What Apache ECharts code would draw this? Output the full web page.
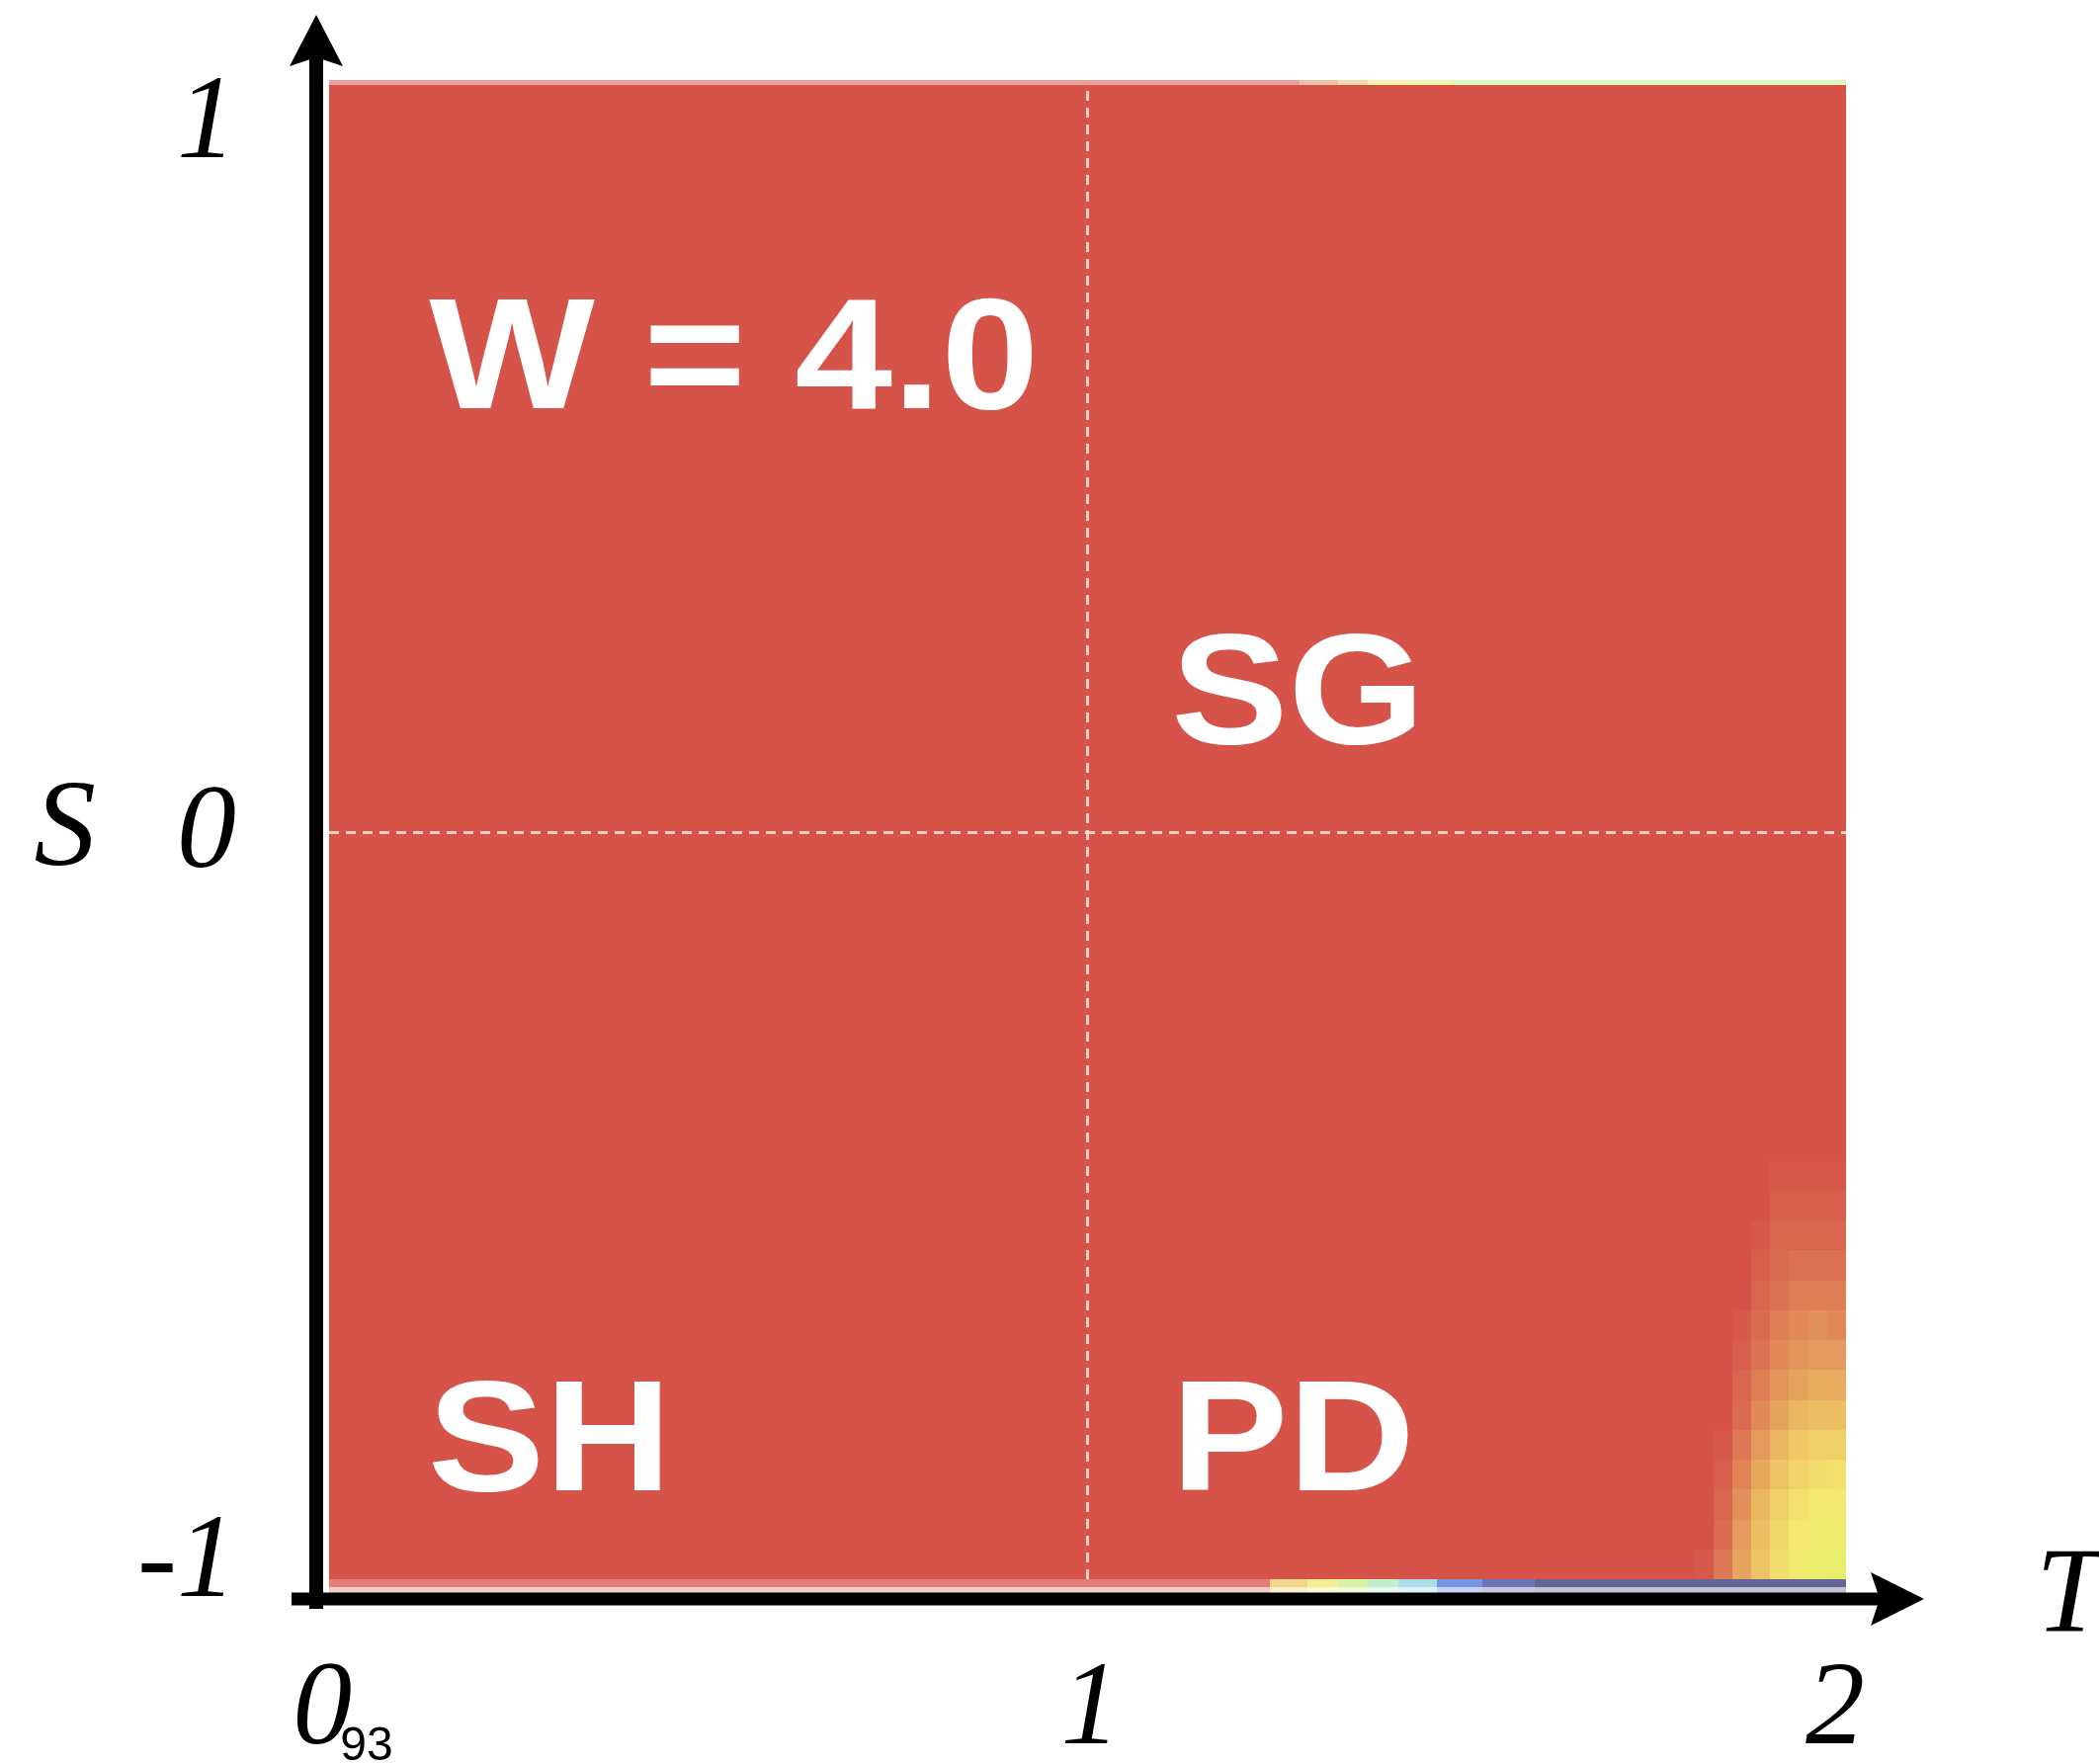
<!DOCTYPE html>
<html>
<head>
<meta charset="utf-8">
<title>Cooperation on the T–S plane, W = 4.0</title>
<script src="https://cdn.jsdelivr.net/npm/echarts@6/dist/echarts.min.js"></script>
<style>
  html, body { margin: 0; padding: 0; background: #ffffff; }
  #chart { width: 2124px; height: 1785px; }
</style>
</head>
<body>
<div id="chart"></div>
<script>
// ---- axes: temptation T (horizontal) and sucker's payoff S (vertical) ----
const tRange = [0, 2];
const sRange = [-1, 1];
const tTickLabels = ['0', '1', '2'];
const sTickLabels = ['-1', '0', '1'];
const originNote = '93';
const tName = 'T';
const sName = 'S';

// ---- cooperation level (0 = none, 1 = full) ----
// level over the whole plane
const fieldLevel = 1.0;

// patch near T = 2, S = -1: column edges in T, row edges in S, rows listed from S = -1 upward
const cornerT = [1.8, 1.825, 1.85, 1.875, 1.9, 1.925, 1.95, 1.975, 2.0];
const cornerS = [-1.0, -0.96, -0.92, -0.88, -0.84, -0.80, -0.76, -0.72, -0.68, -0.64, -0.60, -0.56, -0.52, -0.48, -0.44, -0.40];
const cornerLevels = [
  [0.99, 0.94, 0.86, 0.79, 0.73, 0.69, 0.64, 0.62],
  [1.00, 0.96, 0.88, 0.80, 0.74, 0.70, 0.67, 0.66],
  [1.00, 0.97, 0.90, 0.82, 0.76, 0.72, 0.70, 0.69],
  [1.00, 0.98, 0.92, 0.85, 0.79, 0.75, 0.73, 0.72],
  [1.00, 0.99, 0.94, 0.88, 0.82, 0.78, 0.76, 0.76],
  [1.00, 1.00, 0.96, 0.91, 0.86, 0.82, 0.80, 0.80],
  [1.00, 1.00, 0.97, 0.93, 0.89, 0.86, 0.84, 0.84],
  [1.00, 1.00, 0.98, 0.95, 0.91, 0.89, 0.88, 0.88],
  [1.00, 1.00, 0.99, 0.96, 0.93, 0.91, 0.90, 0.91],
  [1.00, 1.00, 1.00, 0.97, 0.95, 0.93, 0.93, 0.93],
  [1.00, 1.00, 1.00, 0.98, 0.96, 0.95, 0.95, 0.95],
  [1.00, 1.00, 1.00, 0.99, 0.97, 0.97, 0.97, 0.97],
  [1.00, 1.00, 1.00, 1.00, 0.98, 0.98, 0.98, 0.98],
  [1.00, 1.00, 1.00, 1.00, 0.99, 0.99, 0.99, 0.99],
  [1.00, 1.00, 1.00, 1.00, 1.00, 1.00, 1.00, 1.00]
];

// faint rows just outside S = 1 and S = -1
const topEdgeT = [0, 1.28, 1.33, 1.37, 1.43, 1.48, 2.0];
const topEdgeLevels = [1.0, 0.9, 0.8, 0.7, 0.6, 0.5];
const bottomEdgeT = [0, 1.24, 1.29, 1.33, 1.37, 1.41, 1.46, 1.52, 1.59, 2.0];
const bottomEdgeLevels = [1.0, 0.78, 0.66, 0.52, 0.42, 0.32, 0.2, 0.1, 0.02];

// region names and where they are written (T, S of the text's left/middle)
const regionNames = ['W = 4.0', 'SG', 'SH', 'PD'];
const regionT = [0.132, 1.110, 0.130, 1.110];
const regionS = [0.626, 0.177, -0.822, -0.822];

// colour scale for the cooperation level
const levelColors = ['#2e2a66', '#3c4a9c', '#4a72d6', '#8ccbea', '#a8e8c8', '#c6ee8a',
                     '#e4f06a', '#f5e870', '#ecc062', '#e2905a', '#d6534a'];

// ---- build the cell list: [t0, t1, s0, s1, level, opacity] ----
const cells = [];
cells.push([tRange[0], tRange[1], sRange[0], sRange[1], fieldLevel, 1]);
for (let r = 0; r < cornerLevels.length; r++) {
  for (let c = 0; c < cornerLevels[r].length; c++) {
    cells.push([cornerT[c], cornerT[c + 1], cornerS[r], cornerS[r + 1], cornerLevels[r][c], 1]);
  }
}
const topEdgeDepth = 0.0066;
for (let i = 0; i < topEdgeLevels.length; i++) {
  cells.push([topEdgeT[i], topEdgeT[i + 1], sRange[1], sRange[1] + topEdgeDepth, topEdgeLevels[i], 0.55]);
}
const bottomEdgeDepth = 0.01;
for (let i = 0; i < bottomEdgeLevels.length; i++) {
  cells.push([bottomEdgeT[i], bottomEdgeT[i + 1], sRange[0] - bottomEdgeDepth, sRange[0], bottomEdgeLevels[i], 0.75]);
  cells.push([bottomEdgeT[i], bottomEdgeT[i + 1], sRange[0] - 2 * bottomEdgeDepth, sRange[0] - bottomEdgeDepth, bottomEdgeLevels[i], 0.3]);
}

function renderCell(params, api) {
  const a = api.coord([api.value(0), api.value(3)]);
  const b = api.coord([api.value(1), api.value(2)]);
  const x0 = Math.round(a[0]), y0 = Math.round(a[1]);
  const x1 = Math.round(b[0]), y1 = Math.round(b[1]);
  return {
    type: 'rect',
    shape: { x: x0, y: y0, width: x1 - x0, height: y1 - y0 },
    style: { fill: api.visual('color'), opacity: api.value(5) }
  };
}

const serif = 'Liberation Serif';
const sans = 'Liberation Sans';
const tickFont = { fontFamily: serif, fontStyle: 'italic', fontSize: 120, lineHeight: 120, color: '#000' };

const chart = echarts.init(document.getElementById('chart'), null, { renderer: 'canvas' });

chart.setOption({
  backgroundColor: '#ffffff',
  animation: false,
  grid: { left: 333, right: 256, top: 86, bottom: 187, containLabel: false, outerBoundsMode: 'none' },
  visualMap: {
    show: false,
    type: 'continuous',
    seriesIndex: 0,
    dimension: 4,
    min: 0,
    max: 1,
    inRange: { color: levelColors }
  },
  xAxis: {
    type: 'value',
    min: tRange[0],
    max: tRange[1],
    interval: 1,
    axisLine: { show: false },
    axisTick: { show: false },
    splitLine: { show: false },
    axisLabel: {
      margin: 74,
      fontFamily: serif,
      fontStyle: 'italic',
      fontSize: 120,
      lineHeight: 120,
      color: '#000',
      formatter: function (v) {
        const i = Math.round(v - tRange[0]);
        if (i === 0) return '{z|' + tTickLabels[0] + '}{s|' + originNote + '}';
        if (i === 2) return '{e|' + tTickLabels[2] + '}';
        return '{m|' + tTickLabels[i] + '}';
      },
      rich: {
        z: Object.assign({}, tickFont, { width: 36, padding: [0, 0, 0, 40] }),
        s: { fontFamily: sans, fontStyle: 'normal', fontSize: 48, lineHeight: 34, color: '#000', verticalAlign: 'bottom' },
        m: Object.assign({}, tickFont, { padding: [0, 0, 0, 6] }),
        e: Object.assign({}, tickFont, { padding: [0, 22, 0, 0] })
      }
    }
  },
  yAxis: {
    type: 'value',
    min: sRange[0],
    max: sRange[1],
    interval: 1,
    axisLine: { show: false },
    axisTick: { show: false },
    splitLine: { show: false },
    name: sName,
    nameLocation: 'middle',
    nameRotate: 0,
    nameGap: 236,
    nameTextStyle: { fontFamily: serif, fontStyle: 'italic', fontSize: 125, color: '#000', padding: [12, 0, 0, 0] },
    axisLabel: {
      margin: 94,
      fontFamily: serif,
      fontStyle: 'italic',
      fontSize: 120,
      lineHeight: 120,
      color: '#000',
      formatter: function (v) {
        const i = Math.round(v - sRange[0]);
        if (i === 2) return '{hi|' + sTickLabels[2] + '}';
        if (i === 0) return '{lo|' + sTickLabels[0] + '}';
        return '{mid|' + sTickLabels[1] + '}';
      },
      rich: {
        hi: Object.assign({}, tickFont, { padding: [82, 0, 0, 0] }),
        lo: Object.assign({}, tickFont, { padding: [0, 0, 30, 0] }),
        mid: Object.assign({}, tickFont, { padding: [6, 0, 0, 0] })
      }
    }
  },
  series: [
    {
      type: 'custom',
      name: 'cooperation',
      clip: false,
      z: 1,
      dimensions: ['t0', 't1', 's0', 's1', 'level', 'alpha'],
      encode: { x: [0, 1], y: [2, 3] },
      renderItem: renderCell,
      data: cells,
      markLine: {
        silent: true,
        symbol: ['none', 'none'],
        label: { show: false },
        lineStyle: { type: [10, 7], color: 'rgba(255,232,226,0.85)', width: 3, opacity: 1 },
        data: [{ xAxis: 1 }, { yAxis: 0 }]
      }
    }
  ]
});

// ---- arrowed axis lines, axis name T and region names ----
const lo = chart.convertToPixel({ gridIndex: 0 }, [tRange[0], sRange[0]]);
const hi = chart.convertToPixel({ gridIndex: 0 }, [tRange[1], sRange[1]]);
const yLineX = lo[0] - 13;
const xLineY = lo[1] + 20;
const yTip = hi[1] - 71;
const xTip = hi[0] + 79;

const regionTexts = regionNames.map(function (name, i) {
  const p = chart.convertToPixel({ gridIndex: 0 }, [regionT[i], regionS[i]]);
  return {
    type: 'text', z: 20, x: p[0], y: p[1], scaleX: 1.11, scaleY: 1,
    style: { text: name, fontFamily: sans, fontWeight: 'bold', fontSize: 160, fill: '#ffffff',
             align: 'left', verticalAlign: 'middle' }
  };
});

chart.setOption({
  graphic: [
    { type: 'line', z: 10, shape: { x1: yLineX, y1: lo[1] + 30, x2: yLineX, y2: yTip + 30 },
      style: { stroke: '#000', lineWidth: 14 } },
    { type: 'polygon', z: 10,
      shape: { points: [[yLineX, yTip], [yLineX + 27, yTip + 52], [yLineX, yTip + 43], [yLineX - 27, yTip + 52]] },
      style: { fill: '#000' } },
    { type: 'line', z: 10, shape: { x1: lo[0] - 38, y1: xLineY, x2: xTip - 30, y2: xLineY },
      style: { stroke: '#000', lineWidth: 13 } },
    { type: 'polygon', z: 10,
      shape: { points: [[xTip, xLineY], [xTip - 54, xLineY - 27], [xTip - 45, xLineY], [xTip - 54, xLineY + 27]] },
      style: { fill: '#000' } },
    { type: 'text', z: 10, x: hi[0] + 192, y: xLineY,
      style: { text: tName, fontFamily: serif, fontStyle: 'italic', fontSize: 122, fill: '#000',
               align: 'left', verticalAlign: 'middle' } }
  ].concat(regionTexts)
});
</script>
</body>
</html>
